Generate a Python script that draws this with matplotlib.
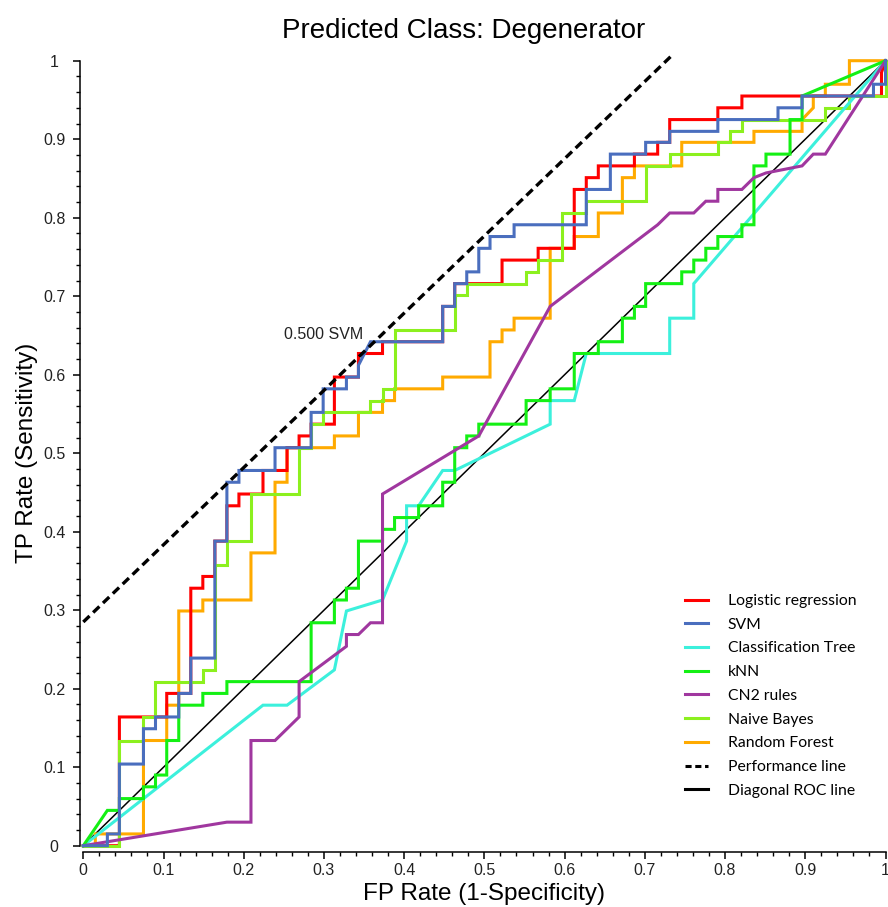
import matplotlib
matplotlib.use("Agg")
import matplotlib.pyplot as plt
from matplotlib.lines import Line2D
from matplotlib.ticker import MultipleLocator

# ---------------- data (FP rate, TP rate) ----------------
lr_fpr = [0, 0.045, 0.045, 0.104, 0.104, 0.134, 0.134, 0.149, 0.149, 0.164, 0.164, 0.179, 0.179,
          0.194, 0.194, 0.224, 0.224, 0.254, 0.254, 0.269, 0.269, 0.284, 0.284, 0.313, 0.313,
          0.343, 0.343, 0.373, 0.373, 0.448, 0.448, 0.463, 0.463, 0.522, 0.522, 0.567, 0.567,
          0.612, 0.612, 0.627, 0.627, 0.642, 0.642, 0.687, 0.687, 0.716, 0.716, 0.731, 0.731,
          0.791, 0.791, 0.821, 0.821, 0.995, 0.995, 1.0]
lr_tpr = [0, 0, 0.164, 0.164, 0.194, 0.194, 0.328, 0.328, 0.343, 0.343, 0.388, 0.388, 0.433,
          0.433, 0.448, 0.448, 0.478, 0.478, 0.507, 0.507, 0.522, 0.522, 0.537, 0.537, 0.597,
          0.597, 0.627, 0.627, 0.642, 0.642, 0.687, 0.687, 0.716, 0.716, 0.746, 0.746, 0.761,
          0.761, 0.836, 0.836, 0.851, 0.851, 0.866, 0.866, 0.881, 0.881, 0.896, 0.896, 0.925,
          0.925, 0.940, 0.940, 0.955, 0.955, 0.985, 1.0]

svm_fpr = [0, 0.030, 0.030, 0.045, 0.045, 0.075, 0.075, 0.090, 0.090, 0.119, 0.119, 0.134, 0.134,
           0.164, 0.164, 0.179, 0.179, 0.194, 0.194, 0.239, 0.239, 0.284, 0.284, 0.299, 0.299,
           0.328, 0.328, 0.343, 0.343, 0.358, 0.448, 0.448, 0.463, 0.463, 0.478, 0.478, 0.493,
           0.493, 0.507, 0.507, 0.537, 0.537, 0.627, 0.627, 0.657, 0.657, 0.701, 0.701, 0.731,
           0.731, 0.791, 0.791, 0.866, 0.866, 0.896, 0.896, 0.985, 0.985, 1.0, 1.0]
svm_tpr = [0, 0, 0.015, 0.015, 0.104, 0.104, 0.149, 0.149, 0.164, 0.164, 0.194, 0.194, 0.239,
           0.239, 0.388, 0.388, 0.463, 0.463, 0.478, 0.478, 0.507, 0.507, 0.552, 0.552, 0.582,
           0.582, 0.597, 0.597, 0.612, 0.642, 0.642, 0.687, 0.687, 0.716, 0.716, 0.731, 0.731,
           0.761, 0.761, 0.776, 0.776, 0.791, 0.791, 0.836, 0.836, 0.881, 0.881, 0.896, 0.896,
           0.910, 0.910, 0.925, 0.925, 0.940, 0.940, 0.955, 0.955, 0.970, 0.970, 1.0]

ct_fpr = [0, 0.224, 0.254, 0.313, 0.328, 0.373, 0.403, 0.403, 0.418, 0.448, 0.463, 0.582, 0.582,
          0.612, 0.627, 0.731, 0.731, 0.761, 0.761, 1.0]
ct_tpr = [0, 0.179, 0.179, 0.224, 0.299, 0.313, 0.388, 0.433, 0.433, 0.478, 0.478, 0.537, 0.567,
          0.567, 0.627, 0.627, 0.672, 0.672, 0.716, 1.0]

knn_fpr = [0, 0.030, 0.045, 0.045, 0.075, 0.075, 0.090, 0.090, 0.104, 0.104, 0.119, 0.119, 0.149,
           0.149, 0.179, 0.179, 0.284, 0.284, 0.313, 0.313, 0.328, 0.328, 0.343, 0.343, 0.373,
           0.373, 0.388, 0.388, 0.418, 0.418, 0.448, 0.448, 0.463, 0.463, 0.478, 0.478, 0.493,
           0.493, 0.552, 0.552, 0.582, 0.582, 0.612, 0.612, 0.642, 0.642, 0.672, 0.672, 0.687,
           0.687, 0.701, 0.701, 0.746, 0.746, 0.761, 0.761, 0.776, 0.776, 0.791, 0.791, 0.821,
           0.821, 0.836, 0.836, 0.851, 0.851, 0.881, 0.881, 0.896, 0.896, 1.0]
knn_tpr = [0, 0.045, 0.045, 0.060, 0.060, 0.075, 0.075, 0.090, 0.090, 0.134, 0.134, 0.179, 0.179,
           0.194, 0.194, 0.209, 0.209, 0.284, 0.284, 0.313, 0.313, 0.328, 0.328, 0.388, 0.388,
           0.403, 0.403, 0.418, 0.418, 0.433, 0.433, 0.463, 0.463, 0.507, 0.507, 0.522, 0.522,
           0.537, 0.537, 0.567, 0.567, 0.582, 0.582, 0.627, 0.627, 0.642, 0.642, 0.672, 0.672,
           0.687, 0.687, 0.716, 0.716, 0.731, 0.731, 0.746, 0.746, 0.761, 0.761, 0.776, 0.776,
           0.791, 0.791, 0.866, 0.866, 0.881, 0.881, 0.925, 0.925, 0.955, 1.0]

cn2_fpr = [0, 0.179, 0.209, 0.209, 0.239, 0.269, 0.269, 0.328, 0.328, 0.343, 0.358, 0.373, 0.373,
           0.493, 0.582, 0.716, 0.731, 0.761, 0.776, 0.791, 0.791, 0.821, 0.836, 0.851, 0.896,
           0.910, 0.925, 1.0]
cn2_tpr = [0, 0.030, 0.030, 0.134, 0.134, 0.164, 0.209, 0.254, 0.269, 0.269, 0.284, 0.284, 0.448,
           0.522, 0.687, 0.791, 0.806, 0.806, 0.821, 0.821, 0.836, 0.836, 0.851, 0.857, 0.866,
           0.881, 0.881, 1.0]

nb_fpr = [0, 0.045, 0.045, 0.075, 0.075, 0.090, 0.090, 0.149, 0.149, 0.164, 0.164, 0.179, 0.179,
          0.209, 0.209, 0.269, 0.269, 0.284, 0.284, 0.299, 0.299, 0.358, 0.358, 0.373, 0.373,
          0.388, 0.388, 0.463, 0.463, 0.478, 0.478, 0.552, 0.552, 0.567, 0.567, 0.597, 0.597,
          0.627, 0.627, 0.701, 0.701, 0.731, 0.731, 0.791, 0.791, 0.806, 0.806, 0.821, 0.821,
          0.925, 0.925, 0.955, 0.955, 1.0, 1.0]
nb_tpr = [0, 0, 0.134, 0.134, 0.164, 0.164, 0.209, 0.209, 0.224, 0.224, 0.358, 0.358, 0.388,
          0.388, 0.448, 0.448, 0.507, 0.507, 0.537, 0.537, 0.552, 0.552, 0.567, 0.567, 0.582,
          0.582, 0.657, 0.657, 0.701, 0.701, 0.716, 0.716, 0.731, 0.731, 0.746, 0.746, 0.806,
          0.806, 0.821, 0.821, 0.866, 0.866, 0.881, 0.881, 0.896, 0.896, 0.910, 0.910, 0.925,
          0.925, 0.940, 0.940, 0.955, 0.955, 1.0]

rf_fpr = [0, 0.015, 0.015, 0.075, 0.075, 0.104, 0.104, 0.119, 0.119, 0.149, 0.149, 0.209, 0.209,
          0.239, 0.239, 0.254, 0.254, 0.313, 0.313, 0.343, 0.343, 0.373, 0.373, 0.388, 0.388,
          0.448, 0.448, 0.507, 0.507, 0.522, 0.522, 0.537, 0.537, 0.582, 0.582, 0.612, 0.612,
          0.642, 0.642, 0.672, 0.672, 0.687, 0.687, 0.746, 0.746, 0.836, 0.836, 0.896, 0.896,
          0.910, 0.910, 0.925, 0.925, 0.955, 0.955, 1.0]
rf_tpr = [0, 0, 0.015, 0.015, 0.134, 0.134, 0.179, 0.179, 0.299, 0.299, 0.313, 0.313, 0.373,
          0.373, 0.463, 0.463, 0.507, 0.507, 0.522, 0.522, 0.552, 0.552, 0.567, 0.567, 0.582,
          0.582, 0.597, 0.597, 0.642, 0.642, 0.657, 0.657, 0.672, 0.672, 0.761, 0.761, 0.776,
          0.776, 0.806, 0.806, 0.851, 0.851, 0.866, 0.866, 0.896, 0.896, 0.910, 0.910, 0.925,
          0.940, 0.955, 0.955, 0.970, 0.970, 1.0, 1.0]

perf_fpr = [0.0, 0.734]
perf_tpr = [0.285, 1.007]
diag_fpr = [0.0, 1.0]
diag_tpr = [0.0, 1.0]

series_labels = ["Logistic regression", "SVM", "Classification Tree", "kNN", "CN2 rules",
                 "Naive Bayes", "Random Forest"]
series_colors = ["#FF0000", "#4A6EBE", "#3CF0DC", "#14F014", "#A0379F", "#8CF01E", "#FFAA00"]
series_z = [3, 8, 5, 6, 7, 4, 2]
series_data = [(lr_fpr, lr_tpr), (svm_fpr, svm_tpr), (ct_fpr, ct_tpr), (knn_fpr, knn_tpr),
               (cn2_fpr, cn2_tpr), (nb_fpr, nb_tpr), (rf_fpr, rf_tpr)]

tick_vals = [0, 0.1, 0.2, 0.3, 0.4, 0.5, 0.6, 0.7, 0.8, 0.9, 1]
tick_labels = ["0", "0.1", "0.2", "0.3", "0.4", "0.5", "0.6", "0.7", "0.8", "0.9", "1"]

# ---------------- figure ----------------
W, H = 888, 907
fig = plt.figure(figsize=(W / 100, H / 100), dpi=100)
fig.patch.set_facecolor("white")
x0, x1 = 83.3, 885.5
y0, y1 = 845.7, 60.7
ax = fig.add_axes([x0 / W, (H - y0) / H, (x1 - x0) / W, (y0 - y1) / H])
ax.set_xlim(0, 1)
ax.set_ylim(0, 1)

LW = 2.2
ax.plot(diag_fpr, diag_tpr, color="black", lw=1.1, zorder=1, clip_on=False)
for (fx, ty), lab, col, z in zip(series_data, series_labels, series_colors, series_z):
    ax.plot(fx, ty, color=col, lw=LW, zorder=z, clip_on=False, solid_joinstyle="miter")
ax.plot(perf_fpr, perf_tpr, color="black", lw=2.4, ls=(0, (2.6, 1.5)), zorder=9, clip_on=False)

ax.text(0.250, 0.6455, "0.500 SVM", fontsize=11.5, family="Liberation Sans", color="#222222",
        ha="left", va="baseline")

# spines / ticks
for s in ["top", "right"]:
    ax.spines[s].set_visible(False)
ax.spines["left"].set_position(("outward", 2.4))
ax.spines["bottom"].set_position(("outward", 4.6))
ax.spines["left"].set_bounds(0, 1)
ax.spines["bottom"].set_bounds(0, 1)
for s in ["left", "bottom"]:
    ax.spines[s].set_linewidth(1.1)

ax.set_xticks(tick_vals, tick_labels, fontsize=11.5, family="Liberation Sans", color="#222222")
ax.set_yticks(tick_vals, tick_labels, fontsize=11.5, family="Liberation Sans", ha="center",
              color="#222222")
ax.xaxis.set_minor_locator(MultipleLocator(0.02))
ax.yaxis.set_minor_locator(MultipleLocator(0.02))
ax.tick_params(which="major", direction="out", length=5, width=1.1, color="black")
ax.tick_params(which="minor", direction="out", length=3, width=1.0, color="black")
ax.tick_params(axis="y", which="major", pad=13.5)
ax.tick_params(axis="x", which="major", pad=3)

ax.set_xlabel("FP Rate (1-Specificity)", fontsize=17.5, family="Liberation Sans", va="center")
ax.xaxis.set_label_coords(0.5, (y0 - 894) / (y0 - y1))
ax.set_ylabel("TP Rate (Sensitivity)", fontsize=17.5, family="Liberation Sans", va="center")
ax.yaxis.set_label_coords((27 - x0) / (x1 - x0), 0.5)

fig.text(463.5 / W, 1 - 38 / H, "Predicted Class: Degenerator", fontsize=20,
         family="Liberation Sans", ha="center", va="baseline")

# legend
handles = [Line2D([], [], color=c, lw=LW) for c in series_colors]
handles.append(Line2D([], [], color="black", lw=LW, ls=(0, (2.0, 1.2))))
handles.append(Line2D([], [], color="black", lw=LW))
labels = series_labels + ["Performance line", "Diagonal ROC line"]
leg = ax.legend(handles, labels, loc="upper left", bbox_to_anchor=(685 / W, 1 - 594 / H),
                bbox_transform=fig.transFigure, frameon=False, borderpad=0, borderaxespad=0,
                handlelength=1.47, handletextpad=1.25, labelspacing=0.62,
                prop={"family": "Lato", "size": 11.3})

fig.savefig("out.png", dpi=100, facecolor="white")
